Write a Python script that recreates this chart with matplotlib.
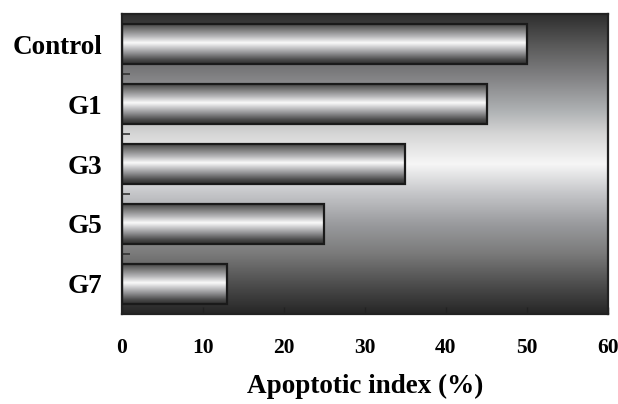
import matplotlib.pyplot as plt
import numpy as np
from matplotlib.colors import LinearSegmentedColormap

groups = ["Control", "G1", "G3", "G5", "G7"]
apoptotic_index = [50, 45, 35, 25, 13]

plt.rcParams['font.family'] = ['Liberation Serif', 'DejaVu Serif']
plt.rcParams['font.weight'] = 'bold'

# vertical gradients: background panel and metallic bars
bg_cmap = LinearSegmentedColormap.from_list("bg", [
    (0.00, "#2e2e2e"), (0.10, "#585858"), (0.22, "#868688"), (0.32, "#aeb1b3"),
    (0.40, "#d6d6d6"), (0.50, "#f6f6f6"), (0.60, "#c4c5c8"), (0.70, "#9a9b9e"),
    (0.80, "#7a7a7a"), (0.90, "#4e4e4e"), (1.00, "#262626")])
bar_cmap = LinearSegmentedColormap.from_list("bar", [
    (0.00, "#3c3c3c"), (0.12, "#6c6c6c"), (0.32, "#b4b4b6"), (0.48, "#fafafa"),
    (0.58, "#d0d0d2"), (0.75, "#8a8a8c"), (0.90, "#4a4a4a"), (1.00, "#2e2e2e")])
grad = np.linspace(0, 1, 256).reshape(-1, 1)

fig = plt.figure(figsize=(6.18, 4.04), dpi=100)
ax = fig.add_axes([0.197, 0.223, 0.787, 0.742])

ypos = np.arange(len(groups))[::-1]
ax.set_xlim(0, 60)
ax.set_ylim(-0.5, len(groups) - 0.5)

ax.imshow(grad, extent=[0, 60, -0.5, len(groups) - 0.5], cmap=bg_cmap,
          aspect='auto', origin='upper', zorder=0, vmin=0, vmax=1)

bars = ax.barh(ypos, apoptotic_index, height=0.67, facecolor='none',
               edgecolor='#1a1a1a', linewidth=1.6, zorder=3)
for b in bars:
    x0, y0, w, h = b.get_x(), b.get_y(), b.get_width(), b.get_height()
    ax.imshow(grad, extent=[x0, x0 + w, y0, y0 + h], cmap=bar_cmap,
              aspect='auto', origin='upper', zorder=2, vmin=0, vmax=1)

ax.set_xlim(0, 60)
ax.set_ylim(-0.5, len(groups) - 0.5)

ax.set_yticks(ypos)
ax.set_yticklabels(groups, fontsize=19.5, fontweight='bold')
ax.set_yticks(np.arange(len(groups) - 1) + 0.5, minor=True)
ax.tick_params(axis='y', which='major', length=0, pad=14)
ax.tick_params(axis='y', which='minor', direction='in', length=6, width=1.2, color='#333333')

ax.set_xticks(np.arange(0, 61, 10))
ax.tick_params(axis='x', direction='in', length=5, width=1.0, color='#222222',
               pad=17, labelsize=15.5)
for lbl in ax.get_xticklabels():
    lbl.set_fontweight('bold')

ax.set_xlabel("Apoptotic index (%)", fontsize=19.5, fontweight='bold', labelpad=12)

for s in ax.spines.values():
    s.set_linewidth(1.6)
    s.set_color('#222222')

fig.savefig("out.png", dpi=100)
